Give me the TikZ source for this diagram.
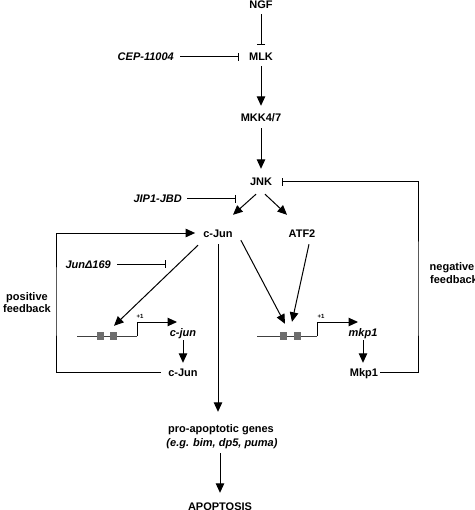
\documentclass[tikz,border=0pt]{standalone}
\usepackage{fontspec}
\setmainfont{Liberation Sans}
\usetikzlibrary{arrows.meta}
\begin{document}
\begin{tikzpicture}[x=1pt,y=-1pt,
  lbl/.style={font=\bfseries\fontsize{11}{13}\selectfont, inner sep=0pt, text height=8pt, text depth=0pt},
  ilbl/.style={lbl, font=\bfseries\itshape\fontsize{11}{13}\selectfont},
  tinylbl/.style={font=\bfseries\fontsize{6}{7}\selectfont, inner sep=0pt},
  act/.style={draw, line width=1pt, -{Triangle[width=8.5pt,length=9.5pt]}},
  inh/.style={draw, line width=1pt, -{Bar[width=8pt,line width=1pt]}},
  prom/.style={draw=black!75, line width=1pt},
  pbox/.style={fill=black!57, minimum width=7pt, minimum height=8pt, inner sep=0pt},
]
\useasboundingbox (0,0) rectangle (474,510);
\fill[white] (0,0) rectangle (474,510);

% nodes
\node[lbl] (ngf) at (261,5) {NGF};
\node[lbl] (mlk) at (261,57) {MLK};
\node[ilbl, anchor=east] (cep) at (174,57) {CEP-11004};
\node[lbl] (mkk) at (261,118) {MKK4/7};
\node[lbl] (jnk) at (261,182) {JNK};
\node[ilbl, anchor=east] (jip) at (182,199) {JIP1-JBD};
\coordinate (jipbar) at (236,199);
\node[lbl] (cjun) at (218,233) {c-Jun};
\node[lbl] (atf) at (302,233) {ATF2};
\node[ilbl, anchor=east] (jd) at (111,264) {JunΔ169};
\coordinate (jdbar) at (166,264);
\node[lbl] (pos1) at (27,296) {positive};
\node[lbl] (pos2) at (27,308) {feedback};
\node[lbl] (neg1) at (452,266) {negative};
\node[lbl] (neg2) at (454,279) {feedback};

% promoter 1
\coordinate (p1a) at (77,336);
\coordinate (p1b) at (137,336);
\coordinate (p1t) at (177,322);
\draw[prom] (p1a) -- (p1b);
\draw[act] (p1b) |- (p1t);
\node[pbox] (b1) at (100,336) {};
\node[pbox] (b2) at (113,336) {};
\node[tinylbl] (tss1) at (140,316) {+1};
\node[ilbl] (cjg) at (183,332) {c-jun};
\node[lbl] (cjun2) at (183,372) {c-Jun};

% promoter 2
\coordinate (p2a) at (257,336);
\coordinate (p2b) at (317,336);
\coordinate (p2t) at (358,322);
\draw[prom] (p2a) -- (p2b);
\draw[act] (p2b) |- (p2t);
\node[pbox] (b3) at (283,336) {};
\node[pbox] (b4) at (297,336) {};
\node[tinylbl] (tss2) at (321,316) {+1};
\node[ilbl] (mkg) at (363,332) {mkp1};
\node[lbl] (mkp) at (364,372) {Mkp1};

\node[lbl] (pro) at (221,428) {pro-apoptotic genes};
\node[ilbl] (eg) at (222,442) {(e.g. bim, dp5, puma)};
\node[lbl] (apop) at (220,506) {APOPTOSIS};

% connectors
\draw[inh, shorten <=5pt, shorten >=8pt] (ngf.south) -- (mlk.north);
\draw[inh, shorten <=6pt, shorten >=10pt] (cep.east) -- (mlk.west);
\draw[act, shorten <=5pt, shorten >=8pt] (mlk.south) -- (mkk.north);
\draw[act, shorten <=6pt, shorten >=9pt] (mkk.south) -- (jnk.north);
\draw[inh, shorten <=5pt] (jip.east) -- (jipbar);
\draw[act] ([xshift=-5pt,yshift=-8pt]jnk.south) -- ([xshift=15pt,yshift=14pt]cjun.north);
\draw[act] ([xshift=4pt,yshift=-8pt]jnk.south) -- ([xshift=-15pt,yshift=14pt]atf.north);
\draw[inh, shorten <=6pt] (jd.east) -- (jdbar);
\draw[act] ([xshift=-20pt,yshift=-8pt]cjun.south) -- ([xshift=1pt,yshift=6pt]b2.north);
\draw[act] ([xshift=8pt,yshift=-3pt]cjun.south east) -- ([xshift=2pt,yshift=8pt]b3.north);
\draw[act] ([xshift=7pt,yshift=-7pt]atf.south) -- ([xshift=-5pt,yshift=10pt]b4.north);
\draw[act, shorten <=7pt, shorten >=12pt] (cjun.south) -- (cjun.south |- pro.north);
\draw[act, shorten <=7pt, shorten >=9pt] (apop.north |- eg.south) -- (apop.north);
\draw[act, shorten <=4pt, shorten >=5pt] (cjg.south) -- (cjun2.north);
\draw[act, shorten <=4pt, shorten >=5pt] (mkg.south) -- (mkg.south |- mkp.north);

\coordinate (posL) at (56,300);
\draw[act, shorten <=7pt, shorten >=8pt] (cjun2.west) -| (posL) |- (cjun.west);
\coordinate (negR) at (418,300);
\draw[inh, shorten <=2pt, shorten >=10pt] (mkp.east) -| (negR) |- (jnk.east);
\end{tikzpicture}
\end{document}
